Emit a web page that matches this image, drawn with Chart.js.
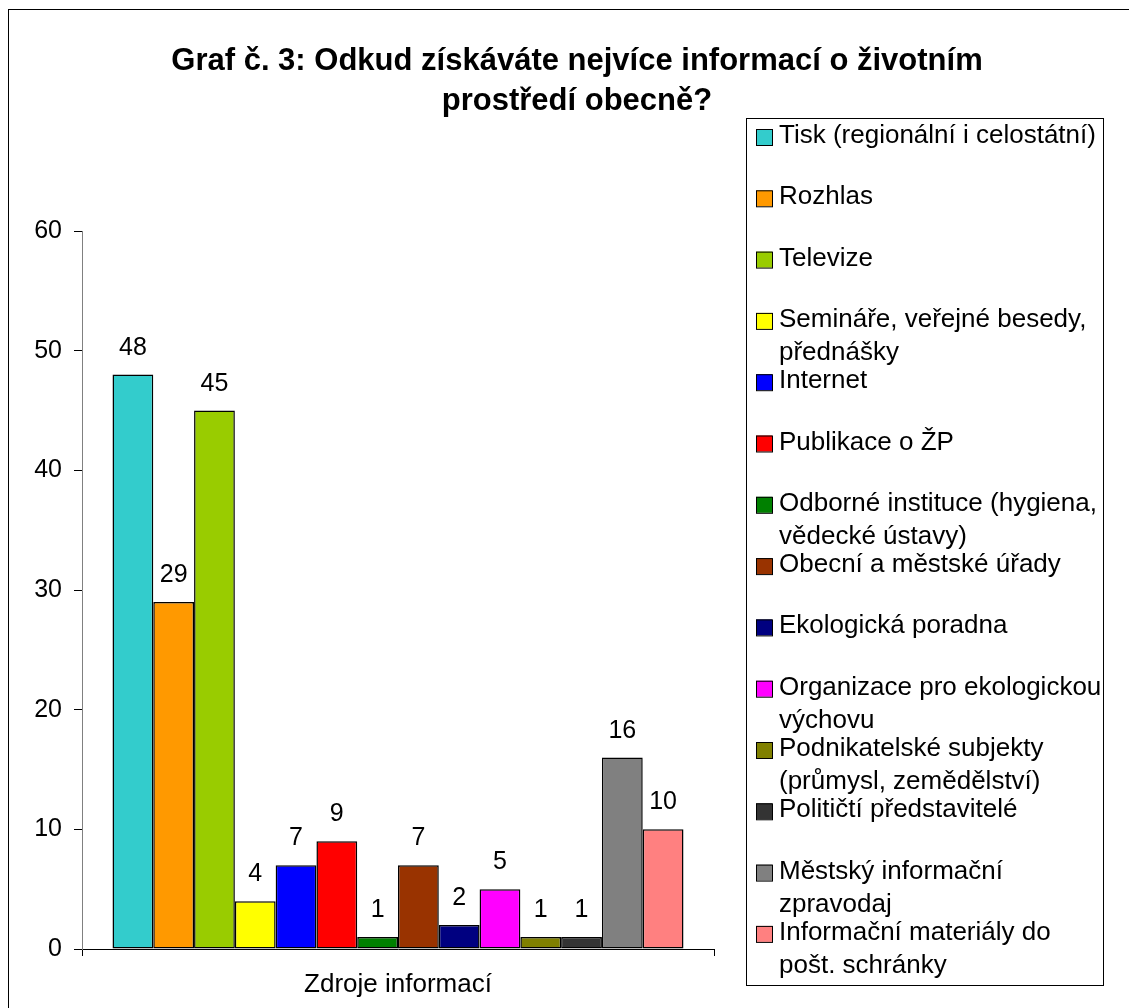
<!DOCTYPE html>
<html lang="cs">

<head>
    <meta charset="UTF-8">
    <title>Graf č. 3</title>
    <script src="https://cdn.jsdelivr.net/npm/chart.js@4.4.0/dist/chart.umd.min.js"></script>
    <style>
        body { margin: 0; background: #fff; }
    </style>
</head>

<body>
    <canvas id="canvas" width="1129" height="1008"></canvas>
    <script>
        // data
        const category = ['Zdroje informací'];
        const sources = [
            ['Tisk (regionální i celostátní)'],
            ['Rozhlas'],
            ['Televize'],
            ['Semináře, veřejné besedy,', 'přednášky'],
            ['Internet'],
            ['Publikace o ŽP'],
            ['Odborné instituce (hygiena,', 'vědecké ústavy)'],
            ['Obecní a městské úřady'],
            ['Ekologická poradna'],
            ['Organizace pro ekologickou', 'výchovu'],
            ['Podnikatelské subjekty', '(průmysl, zemědělství)'],
            ['Političtí představitelé'],
            ['Městský informační', 'zpravodaj'],
            ['Informační materiály do', 'pošt. schránky']
        ];
        const counts = [48, 29, 45, 4, 7, 9, 1, 7, 2, 5, 1, 1, 16, 10];
        const colors = ['#33CCCC', '#FF9900', '#99CC00', '#FFFF00', '#0000FF', '#FF0000', '#008000',
            '#993300', '#000080', '#FF00FF', '#808000', '#333333', '#808080', '#FF8080'];
        const yTicks = [0, 10, 20, 30, 40, 50, 60];
        const titleLines = ['Graf č. 3: Odkud získáváte nejvíce informací o životním', 'prostředí obecně?'];

        const FONT = '"Liberation Sans", Arial, sans-serif';

        // bila plocha, ramecek, nadpis
        const frame = {
            id: 'frame',
            beforeDraw(chart) {
                const c = chart.ctx;
                c.save();
                c.fillStyle = '#fff';
                c.fillRect(0, 0, chart.width, chart.height);
                c.strokeStyle = '#000';
                c.lineWidth = 1;
                c.strokeRect(8.5, 9.5, 1200, 1200);
                c.fillStyle = '#000';
                c.font = 'bold 31px ' + FONT;
                c.textAlign = 'center';
                c.textBaseline = 'alphabetic';
                titleLines.forEach((t, i) => c.fillText(t, 577, 70 + i * 40));
                c.restore();
            }
        };

        // hodnoty nad sloupci
        const valueLabels = {
            id: 'valueLabels',
            afterDatasetsDraw(chart) {
                const c = chart.ctx;
                c.save();
                c.fillStyle = '#000';
                c.font = '25px ' + FONT;
                c.textAlign = 'center';
                c.textBaseline = 'alphabetic';
                chart.data.datasets.forEach((ds, i) => {
                    const bar = chart.getDatasetMeta(i).data[0];
                    c.fillText(ds.data[0], bar.x, bar.y - 20);
                });
                c.restore();
            }
        };

        // legenda vpravo v ramecku
        const boxLegend = {
            id: 'boxLegend',
            afterDraw(chart) {
                const c = chart.ctx;
                c.save();
                c.strokeStyle = '#000';
                c.lineWidth = 1;
                c.strokeRect(746.5, 118.5, 357, 867);
                c.font = '26px ' + FONT;
                c.textAlign = 'left';
                c.textBaseline = 'alphabetic';
                chart.data.datasets.forEach((ds, i) => {
                    const base = 143 + i * 61.3;
                    c.fillStyle = ds.backgroundColor;
                    c.fillRect(756, base - 14, 16, 16);
                    c.strokeRect(756.5, base - 13.5, 16, 16);
                    c.fillStyle = '#000';
                    ds.legendLines.forEach((line, j) => c.fillText(line, 779, base + j * 33));
                });
                c.restore();
            }
        };

        const datasets = counts.map((v, i) => ({
            label: sources[i].join(' '),
            legendLines: sources[i],
            data: [v],
            backgroundColor: colors[i],
            borderColor: '#000',
            borderWidth: 1.5,
            borderSkipped: false,
            categoryPercentage: 0.9035,
            barPercentage: 1
        }));

        let ctx = canvas.getContext('2d');
        let config = {
            type: 'bar',
            data: {
                labels: category,
                datasets: datasets
            },
            options: {
                responsive: false,
                animation: false,
                layout: {
                    padding: { left: 0, top: 231, right: 415, bottom: 0 }
                },
                plugins: {
                    legend: { display: false },
                    title: { display: false },
                    tooltip: { enabled: false }
                },
                scales: {
                    x: {
                        afterFit: s => { s.height = 59; },
                        grid: {
                            offset: true,
                            drawOnChartArea: false,
                            drawTicks: true,
                            tickLength: 7,
                            color: '#000'
                        },
                        border: { color: '#000', width: 1 },
                        ticks: {
                            color: '#000',
                            font: { family: FONT, size: 26 },
                            padding: 13
                        }
                    },
                    y: {
                        min: yTicks[0],
                        max: yTicks[yTicks.length - 1],
                        afterFit: s => { s.width = 82; },
                        afterBuildTicks: s => { s.ticks = yTicks.map(v => ({ value: v })); },
                        grid: {
                            drawOnChartArea: false,
                            drawTicks: true,
                            tickLength: 8,
                            color: '#000'
                        },
                        border: { color: '#808080', width: 1 },
                        ticks: {
                            color: '#000',
                            font: { family: FONT, size: 25 },
                            padding: 12
                        }
                    }
                }
            },
            plugins: [frame, valueLabels, boxLegend]
        };

        let chart = new Chart(ctx, config);
    </script>
</body>

</html>
